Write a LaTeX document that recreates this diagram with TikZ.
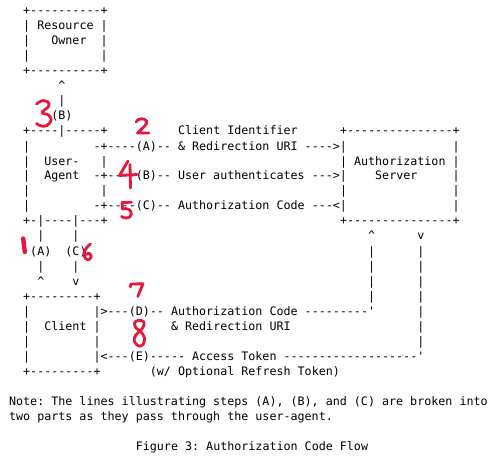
\documentclass[tikz,border=0pt]{standalone}
\usepackage{fontspec}
\setmonofont{DejaVu Sans Mono}
\definecolor{handred}{RGB}{232,22,58}
\tikzset{
  ascii/.style={inner sep=0pt, outer sep=0pt, anchor=base west, text=black,
    font=\ttfamily\fontsize{11.69pt}{15pt}\selectfont},
  hand/.style={draw=handred, line width=2.8pt, line cap=round, line join=round},
}
% one run of characters, placed by column and text row
\newcommand\seg[4]{\node[ascii] (#1) at ({-12.0+7.04*#2},{15+15*#3}) {#4};}
\begin{document}
\begin{tikzpicture}[x=1pt,y=-1pt]
\fill[white] (0,0) rectangle (499,460);
\useasboundingbox (0,0) rectangle (499,460);

% Resource Owner
\seg{r00}{5}{0}{+----------+}
\seg{r01a}{5}{1}{|}\seg{r01b}{7}{1}{Resource}\seg{r01c}{16}{1}{|}
\seg{r02a}{5}{2}{|}\seg{r02b}{9}{2}{Owner}\seg{r02c}{16}{2}{|}
\seg{r03a}{5}{3}{|}\seg{r03b}{16}{3}{|}
\seg{r04}{5}{4}{+----------+}
\seg{r05}{10}{5}{\textasciicircum}
\seg{r06}{10}{6}{|}
\seg{r07}{9}{7}{(B)}

% User-Agent and Authorization Server
\seg{r08a}{5}{8}{+----|-----+}
\seg{r08b}{27}{8}{Client Identifier}
\seg{r08c}{50}{8}{+---------------+}
\seg{r09a}{5}{9}{|}
\seg{r09b}{15}{9}{-+----(A)-- \& Redirection URI ---->|}
\seg{r09c}{66}{9}{|}
\seg{r10a}{5}{10}{|}\seg{r10b}{8}{10}{User-}\seg{r10c}{16}{10}{|}
\seg{r10d}{50}{10}{| Authorization |}
\seg{r11a}{5}{11}{|}\seg{r11b}{8}{11}{Agent}
\seg{r11c}{15}{11}{-+----(B)-- User authenticates --->|}
\seg{r11d}{55}{11}{Server}\seg{r11e}{66}{11}{|}
\seg{r12a}{5}{12}{|}\seg{r12b}{16}{12}{|}\seg{r12c}{50}{12}{|}\seg{r12d}{66}{12}{|}
\seg{r13a}{5}{13}{|}
\seg{r13b}{15}{13}{-+----(C)-- Authorization Code ---<|}
\seg{r13c}{66}{13}{|}
\seg{r14a}{5}{14}{+-|----|---+}
\seg{r14b}{50}{14}{+---------------+}

% links down to the Client
\seg{r15a}{7}{15}{|}\seg{r15b}{12}{15}{|}
\seg{r15c}{54}{15}{\textasciicircum}\seg{r15d}{61}{15}{v}
\seg{r16a}{6}{16}{(A)}\seg{r16b}{11}{16}{(C)}
\seg{r16c}{54}{16}{|}\seg{r16d}{61}{16}{|}
\seg{r17a}{7}{17}{|}\seg{r17b}{12}{17}{|}
\seg{r17c}{54}{17}{|}\seg{r17d}{61}{17}{|}
\seg{r18a}{7}{18}{\textasciicircum}\seg{r18b}{12}{18}{v}
\seg{r18c}{54}{18}{|}\seg{r18d}{61}{18}{|}

% Client
\seg{r19a}{5}{19}{+---------+}
\seg{r19b}{54}{19}{|}\seg{r19c}{61}{19}{|}
\seg{r20a}{5}{20}{|}
\seg{r20b}{15}{20}{|>---(D)-- Authorization Code ---------\textquotesingle}
\seg{r20c}{61}{20}{|}
\seg{r21a}{5}{21}{|}\seg{r21b}{8}{21}{Client}\seg{r21c}{15}{21}{|}
\seg{r21d}{26}{21}{\& Redirection URI}\seg{r21e}{61}{21}{|}
\seg{r22a}{5}{22}{|}\seg{r22b}{15}{22}{|}\seg{r22c}{61}{22}{|}
\seg{r23a}{5}{23}{|}
\seg{r23b}{15}{23}{|<---(E)----- Access Token -------------------\textquotesingle}
\seg{r24a}{5}{24}{+---------+}
\seg{r24b}{23}{24}{(w/ Optional Refresh Token)}

% note and caption
\seg{r26}{3}{26}{Note: The lines illustrating steps (A), (B), and (C) are broken into}
\seg{r27}{3}{27}{two parts as they pass through the user-agent.}
\seg{r29}{21}{29}{Figure 3: Authorization Code Flow}

% hand-written step numbers
\draw[hand, line width=4.4pt] (23.2,238.5) -- (24.8,252);
\draw[hand] (136,122) .. controls (138,118) and (145,117.5) .. (146.8,121.5)
  .. controls (147.5,125) and (141,129) .. (137.5,133) -- (149,133);
\draw[hand] plot[smooth, tension=0.6] coordinates {(36.5,104) (42,100.8) (48,102) (48.5,106.5) (42,112.5) (48.5,115) (51.2,120) (47,125.5) (41,126) (36.5,123.5)};
\draw[hand] (128,161) -- (119.5,175.5) -- (137,174.5);
\draw[hand] (130,164.5) -- (130.5,188);
\draw[hand] (131.5,202.2) -- (122,202.6) -- (122.6,209)
  .. controls (127,207.5) and (132,210) .. (131.2,214.5)
  .. controls (130.5,218.5) and (124.5,219) .. (121.5,216.5);
\draw[hand] plot[smooth, tension=0.6] coordinates {(90.5,244) (86.5,247.8) (84,253.5) (85.5,258.5) (89,259.5) (91.2,256.5) (89,253.2) (85,255)};
\draw[hand] (130.5,287) -- (130.8,284) -- (143,283.8) -- (137.8,296.5);
\draw[hand] plot[smooth cycle, tension=0.6] coordinates {(143.5,321.5) (138.5,320.3) (134.5,323) (136,328) (141,332) (144.5,338) (143,344.5) (138.5,346) (134.2,341) (135.8,335) (141,330) (143.8,325.5)};
\end{tikzpicture}
\end{document}
